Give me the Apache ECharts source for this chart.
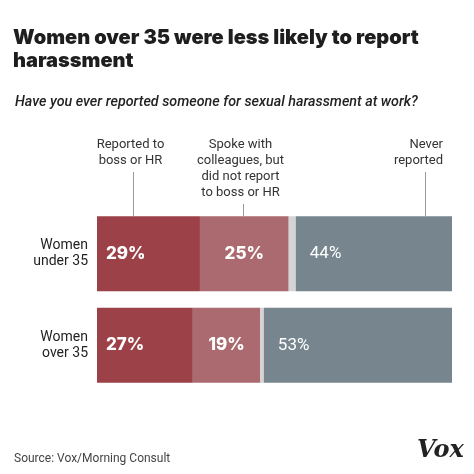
<!DOCTYPE html>
<html><head><meta charset="utf-8">
<script src="https://cdn.jsdelivr.net/npm/echarts@6/dist/echarts.min.js"></script>
<style>html,body{margin:0;padding:0;background:#fff}#c{width:474px;height:474px}</style>
</head><body><div id="c"></div>
<script>
const categories = ['Women\nunder 35', 'Women\nover 35'];
const reported = [29, 27];
const spoke = [25, 19];
const unsure = [2, 1];
const never = [44, 53];
const annotationTexts = ['Reported to\nboss or HR', 'Spoke with\ncolleagues, but\ndid not report\nto boss or HR', 'Never\nreported'];
const annotationValues = [10, 41, 92.5];

const FONT = 'Roboto, "Noto Sans", sans-serif';
const chart = echarts.init(document.getElementById('c'));
const fmt = p => p.value + '%';
chart.setOption({
  backgroundColor: '#fff',
  animation: false,
  title: [
    {text: 'Women over 35 were less likely to report\nharassment', left: 13, top: 26, padding: 0,
     textStyle: {fontFamily: 'Inter, Roboto, sans-serif', fontSize: 20, fontWeight: 900, color: '#1e1e1e', lineHeight: 23}},
    {text: 'Have you ever reported someone for sexual harassment at work?', left: 15, top: 95, padding: 0,
     textStyle: {fontFamily: FONT, fontSize: 14.3, fontWeight: 500, fontStyle: 'italic', color: '#222'}},
    {text: 'Source: Vox/Morning Consult', left: 14, top: 453, padding: 0,
     textStyle: {fontFamily: FONT, fontSize: 12, fontWeight: 'normal', color: '#444'}}
  ],
  grid: {left: 97, right: 22, top: 208, bottom: 83},
  xAxis: {type: 'value', min: 0, max: 100, show: false},
  yAxis: {type: 'category', data: categories, inverse: true,
    axisLine: {show: false}, axisTick: {show: false},
    axisLabel: {margin: 9, fontFamily: FONT, fontSize: 14, color: '#222', lineHeight: 16, align: 'right'}},
  series: [
    {name: 'Reported to boss or HR', type: 'bar', stack: 'a', data: reported, barWidth: 75,
     itemStyle: {color: '#9b4147'},
     label: {show: true, position: 'insideLeft', distance: 9, formatter: fmt, color: '#fff', fontFamily: 'Inter, Roboto, sans-serif', fontSize: 17, fontWeight: 800}},
    {name: 'Spoke with colleagues', type: 'bar', stack: 'a', data: spoke,
     itemStyle: {color: '#ab6a6f'},
     label: {show: true, position: 'inside', formatter: fmt, color: '#fff', fontFamily: 'Inter, Roboto, sans-serif', fontSize: 17, fontWeight: 800}},
    {name: 'Not sure', type: 'bar', stack: 'a', data: unsure,
     itemStyle: {color: '#d4d4d4'}},
    {name: 'Never reported', type: 'bar', stack: 'a', data: never,
     itemStyle: {color: '#77868e'},
     label: {show: true, position: 'insideLeft', distance: 14, formatter: fmt, color: '#fff', fontFamily: FONT, fontSize: 17, fontWeight: 'normal'}}
  ]
});

const barTop = 216;
const graphics = [];
annotationValues.forEach((v, i) => {
  const x = Math.round(chart.convertToPixel({gridIndex: 0}, [v, 0])[0]) + 0.5;
  const lines = annotationTexts[i].split('\n').length;
  const textTop = 137;
  const textBottom = textTop + lines * 16;
  graphics.push({type: 'line', shape: {x1: x, y1: textBottom + 3, x2: x, y2: barTop}, style: {stroke: '#999', lineWidth: 1}});
  const isLast = i === annotationValues.length - 1;
  graphics.push({type: 'text', x: isLast ? 443 : x - 3, y: textTop,
    style: {text: annotationTexts[i], fill: '#333', font: '13px ' + FONT, textAlign: isLast ? 'right' : 'center', lineHeight: 16}});
});
graphics.push({type: 'text', x: 417, y: 439,
  style: {text: 'Vox', fill: '#222', font: 'italic bold 24px "DejaVu Serif", serif'}});
chart.setOption({graphic: graphics});
</script></body></html>
